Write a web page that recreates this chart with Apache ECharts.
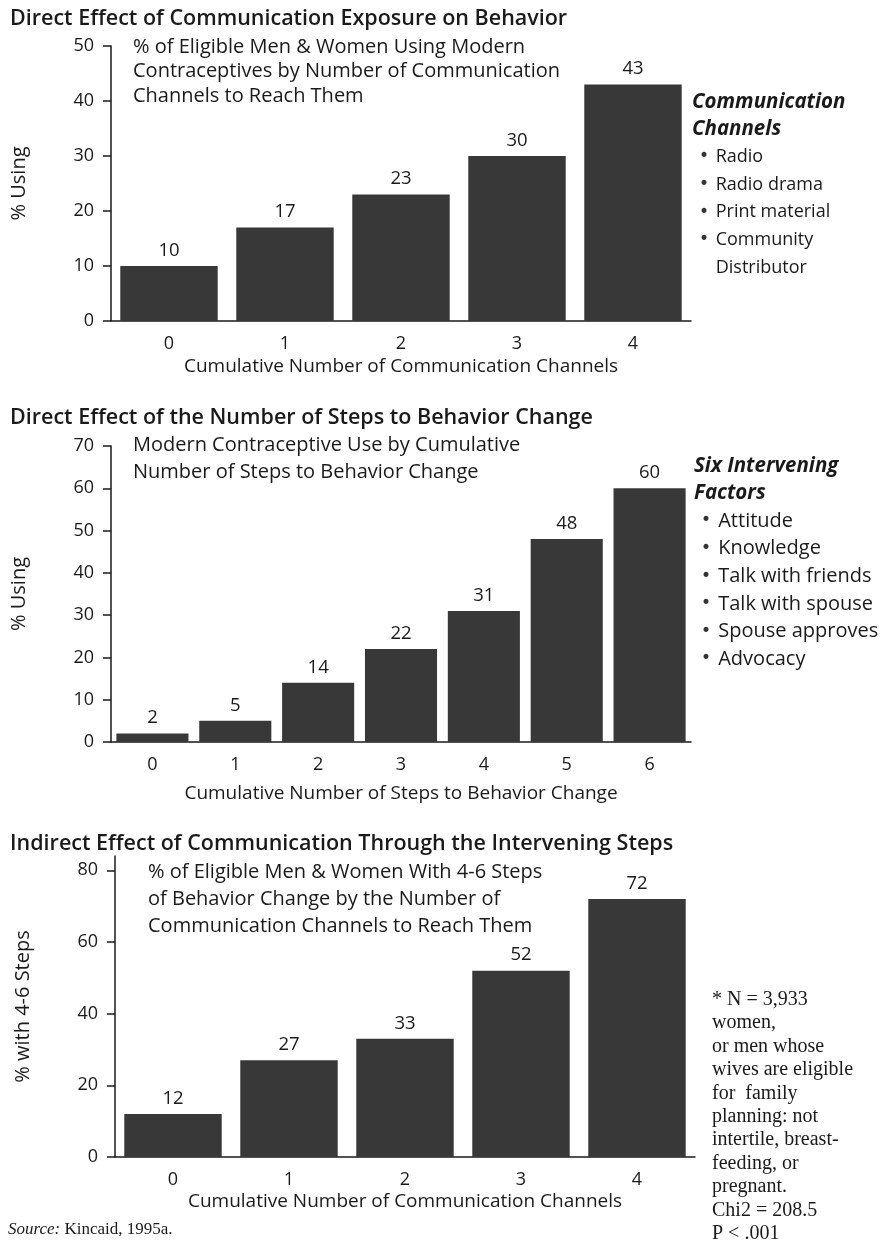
<!DOCTYPE html>
<html>
<head>
<meta charset="utf-8">
<script src="https://cdn.jsdelivr.net/npm/echarts@6/dist/echarts.min.js"></script>
<style>
  html, body { margin: 0; padding: 0; background: #fff; }
  #main { width: 895px; height: 1245px; }
</style>
</head>
<body>
<div id="main"></div>
<script>
// data
var channelCats = ['0', '1', '2', '3', '4'];
var channelUse = [10, 17, 23, 30, 43];
var stepCats = ['0', '1', '2', '3', '4', '5', '6'];
var stepUse = [2, 5, 14, 22, 31, 48, 60];
var channelSteps = [12, 27, 33, 52, 72];
var ticks3 = [0, 20, 40, 60, 80];

var channelList = ['Radio', 'Radio drama', 'Print material', 'Community'];
var factorList = ['Attitude', 'Knowledge', 'Talk with friends', 'Talk with spouse', 'Spouse approves', 'Advocacy'];
var noteLines = ['* N = 3,933', 'women,', 'or men whose', 'wives are eligible', 'for  family',
    'planning: not', 'intertile, breast-', 'feeding, or', 'pregnant.', 'Chi2 = 208.5', 'P < .001'];

var FONT = 'Open Sans';
var SERIF = 'Liberation Serif';
var INK = '#1a1a1a';
var BAR = '#383838';

function bullets(items) {
    return items.map(function (s) { return '{d|•} ' + s; }).join('\n');
}

function legendStyle(size) {
    return {
        fontFamily: FONT, fontSize: size, fontWeight: 'normal', color: INK, lineHeight: 27.6, align: 'left',
        rich: {
            h: { fontFamily: FONT, fontStyle: 'italic', fontWeight: 'bold', fontSize: 20.5, lineHeight: 27.6 },
            d: { fontFamily: 'DejaVu Sans', fontSize: 17, color: '#333', padding: [0, 2, 0, 7], lineHeight: 27.6 },
            e: { fontFamily: 'DejaVu Sans', fontSize: 17, color: 'rgba(0,0,0,0)', padding: [0, 2, 0, 7], lineHeight: 27.6 }
        }
    };
}

function xAx(idx, cats, name, gap) {
    return {
        type: 'category',
        gridIndex: idx,
        data: cats,
        name: name,
        nameLocation: 'middle',
        nameGap: gap,
        nameTextStyle: { fontFamily: FONT, fontSize: 19, color: INK },
        axisLine: { lineStyle: { color: INK, width: 1.5 } },
        axisTick: { alignWithLabel: true, length: 8, lineStyle: { color: INK, width: 1.5 } },
        axisLabel: { fontFamily: FONT, fontSize: 18, color: INK, margin: 14 }
    };
}

function yAx(idx, max, interval, name, gap) {
    return {
        type: 'value',
        gridIndex: idx,
        min: 0,
        max: max,
        interval: interval,
        name: name,
        nameLocation: 'middle',
        nameGap: gap,
        nameRotate: 90,
        nameTextStyle: { fontFamily: FONT, fontSize: 20, color: INK },
        splitLine: { show: false },
        axisLine: { show: true, lineStyle: { color: INK, width: 1.5 } },
        axisTick: { show: true, length: 8, lineStyle: { color: INK, width: 1.5 } },
        axisLabel: { fontFamily: FONT, fontSize: 18, color: INK, margin: 17 }
    };
}

function barSeries(idx, data, gap) {
    return {
        type: 'bar',
        xAxisIndex: idx,
        yAxisIndex: idx,
        data: data,
        barCategoryGap: gap,
        itemStyle: { color: BAR },
        label: { show: true, position: 'top', distance: 6, fontFamily: FONT, fontSize: 18.5, color: INK }
    };
}

var myChart = echarts.init(document.getElementById('main'));

var y3 = yAx(2, 84, 20, '% with 4-6 Steps', 82);
y3.axisTick.customValues = ticks3;
y3.axisLabel.customValues = ticks3;

var titleStyle = { fontFamily: FONT, fontSize: 21.5, fontWeight: 600, color: INK };

var option = {
    backgroundColor: '#fff',
    animation: false,
    title: [
        { text: 'Direct Effect of Communication Exposure on Behavior', left: 10, top: 8, padding: 0,
          textStyle: titleStyle },
        { text: '% of Eligible Men & Women Using Modern\nContraceptives by Number of Communication\nChannels to Reach Them',
          left: 133, top: 35, padding: 0,
          textStyle: { fontFamily: FONT, fontSize: 20, fontWeight: 'normal', color: INK, lineHeight: 24.5 } },
        { text: '{h|Communication}\n{h|Channels}\n' + bullets(channelList) + '\n{e|•} Distributor',
          left: 692, top: 88, padding: 0, textAlign: 'left', textStyle: legendStyle(18) },

        { text: 'Direct Effect of the Number of Steps to Behavior Change', left: 10, top: 407, padding: 0,
          textStyle: titleStyle },
        { text: 'Modern Contraceptive Use by Cumulative\nNumber of Steps to Behavior Change',
          left: 133, top: 432, padding: 0,
          textStyle: { fontFamily: FONT, fontSize: 20, fontWeight: 'normal', color: INK, lineHeight: 27 } },
        { text: '{h|Six Intervening}\n{h|Factors}\n' + bullets(factorList),
          left: 694, top: 452, padding: 0, textAlign: 'left', textStyle: legendStyle(20) },

        { text: 'Indirect Effect of Communication Through the Intervening Steps', left: 10, top: 833, padding: 0,
          textStyle: titleStyle },
        { text: '% of Eligible Men & Women With 4-6 Steps\nof Behavior Change by the Number of\nCommunication Channels to Reach Them',
          left: 148, top: 859, padding: 0,
          textStyle: { fontFamily: FONT, fontSize: 20, fontWeight: 'normal', color: INK, lineHeight: 27 } },
        { text: noteLines.join('\n'), left: 712, top: 988, padding: 0,
          textStyle: { fontFamily: SERIF, fontSize: 20, fontWeight: 'normal', color: INK, lineHeight: 23.4 } },
        { text: '{i|Source:} Kincaid, 1995a.', left: 8, top: 1221, padding: 0,
          textStyle: { fontFamily: SERIF, fontSize: 17, fontWeight: 'normal', color: INK,
            rich: { i: { fontStyle: 'italic', fontFamily: SERIF, fontSize: 17 } } } }
    ],
    grid: [
        { left: 111, top: 46, width: 580, height: 275 },
        { left: 111, top: 446, width: 580, height: 296 },
        { left: 115, top: 856, width: 580, height: 301 }
    ],
    xAxis: [
        xAx(0, channelCats, 'Cumulative Number of Communication Channels', 36),
        xAx(1, stepCats, 'Cumulative Number of Steps to Behavior Change', 42),
        xAx(2, channelCats, 'Cumulative Number of Communication Channels', 35)
    ],
    yAxis: [
        yAx(0, 50, 10, '% Using', 82),
        yAx(1, 70, 10, '% Using', 82),
        y3
    ],
    series: [
        barSeries(0, channelUse, '16%'),
        barSeries(1, stepUse, '13%'),
        barSeries(2, channelSteps, '16%')
    ]
};
myChart.setOption(option);
</script>
</body>
</html>
